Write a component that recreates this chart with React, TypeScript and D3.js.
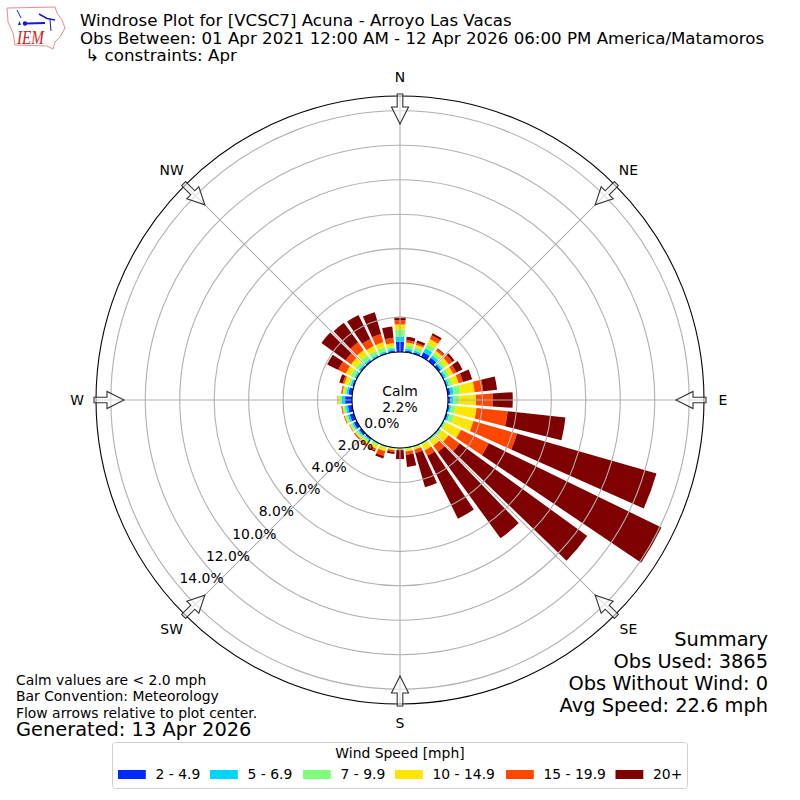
import * as d3 from "d3";

// percent of observations per 10 degree sector, starting at N going clockwise
const directions = d3.range(0, 360, 10);
const bin1 = [0.6, 0.1, 0.1, 0.3, 0.25, 0.15, 0.08, 0.08, 0.15, 0.15, 0.1, 0.1, 0.05, 0.05, 0.03, 0.03, 0.02, 0.02, 0.02, 0.02, 0.03, 0.03, 0.08, 0.15, 0.2, 0.25, 0.25, 0.4, 0.22, 0.1, 0.08, 0.08, 0.08, 0.06, 0.06, 0.1];
const bin2 = [0.3, 0.12, 0.1, 0.25, 0.15, 0.12, 0.12, 0.1, 0.2, 0.18, 0.1, 0.1, 0.05, 0.05, 0.04, 0.03, 0.03, 0.03, 0.01, 0.02, 0.03, 0.05, 0.07, 0.08, 0.1, 0.12, 0.13, 0.2, 0.12, 0.1, 0.08, 0.1, 0.1, 0.1, 0.1, 0.12];
const bin3 = [0.4, 0.2, 0.2, 0.3, 0.2, 0.2, 0.2, 0.22, 0.4, 0.33, 0.26, 0.3, 0.1, 0.1, 0.08, 0.06, 0.05, 0.05, 0.02, 0.03, 0.05, 0.08, 0.13, 0.13, 0.1, 0.1, 0.13, 0.13, 0.13, 0.13, 0.24, 0.2, 0.27, 0.24, 0.24, 0.12];
const bin4 = [0.3, 0.15, 0.15, 0.3, 0.15, 0.25, 0.25, 0.36, 0.82, 0.97, 1.22, 1.15, 0.95, 0.5, 0.35, 0.35, 0.12, 0.12, 0.05, 0.08, 0.2, 0.2, 0.14, 0.08, 0.07, 0.08, 0.07, 0.1, 0.1, 0.25, 0.32, 0.35, 0.35, 0.3, 0.3, 0.2];
const bin5 = [0.25, 0.13, 0.11, 0.25, 0.13, 0.25, 0.2, 0.26, 0.5, 0.97, 1.82, 2.63, 1.8, 0.8, 0.45, 0.35, 0.2, 0.2, 0.03, 0.1, 0.28, 0.12, 0.1, 0.05, 0.02, 0.04, 0.03, 0.01, 0.05, 0.1, 0.48, 0.4, 0.55, 0.45, 0.5, 0.3];
const bin6 = [0.2, 0.2, 0.15, 0.13, 0.05, 0.15, 0.4, 0.55, 0.81, 1.16, 3.37, 8.42, 11.15, 9.15, 6.19, 4.06, 2.06, 0.7, 0.52, 0.12, 0.15, 0.07, 0.03, 0.02, 0.01, 0.01, 0.02, 0.01, 0.02, 0.2, 0.72, 1.72, 1.41, 1.56, 1.32, 0.66];

const binLabels = ["2 - 4.9", "5 - 6.9", "7 - 9.9", "10 - 14.9", "15 - 19.9", "20+"];
const binColors = ["#0029ff", "#00d5ff", "#7dff7a", "#ffe600", "#ff4700", "#7f0000"];
const legendSwatchX = [118, 210, 303, 395, 506, 615.5];

const ringTicks = [0, 2, 4, 6, 8, 10, 12, 14];
const compass = ["N", "NE", "E", "SE", "S", "SW", "W", "NW"];

const titleLines = [
  "Windrose Plot for [VCSC7] Acuna - Arroyo Las Vacas",
  "Obs Between: 01 Apr 2021 12:00 AM - 12 Apr 2026 06:00 PM America/Matamoros",
  " \u21b3 constraints: Apr",
];
const summaryLines = ["Summary", "Obs Used: 3865", "Obs Without Wind: 0", "Avg Speed: 22.6 mph"];
const noteLines = ["Calm values are < 2.0 mph", "Bar Convention: Meteorology", "Flow arrows relative to plot center."];

const cx = 400;
const cy = 400;
const rad = (d: number) => (d * Math.PI) / 180;
const r = d3.scaleLinear().domain([0, 14.86]).range([48, 304]);

const keys = ["b1", "b2", "b3", "b4", "b5", "b6"];
const table = directions.map((dir, i) => ({
  dir,
  b1: bin1[i],
  b2: bin2[i],
  b3: bin3[i],
  b4: bin4[i],
  b5: bin5[i],
  b6: bin6[i],
}));
const stacked = d3.stack().keys(keys)(table as any);
const arc = d3.arc();
const barWidth = 8;

// outline arrow pointing at the center, drawn pointing down from the top edge
const arrowPath = "M-2.8,-306 L2.8,-306 L2.8,-293 L8.5,-293 L0,-276 L-8.5,-293 L-2.8,-293 Z";

const font = "'DejaVu Sans', sans-serif";

export default function App() {
  return (
    <svg
      width={800}
      height={800}
      viewBox="0 0 800 800"
      style={{ position: "absolute", left: 0, top: 0, fontFamily: font }}
    >
      <rect width={800} height={800} fill="white" />

      {/* logo */}
      <g>
        <path
          d="M7,8 L55,7 L57,13 L62,20 L65,28 L60,37 L55,42 L53,49 L47,46 L15,45 L13,33 L8,22 Z"
          fill="white"
          stroke="#e88b8b"
          strokeWidth={1}
        />
        <path d="M26,23.5 L45,23" stroke="#1a1ac8" strokeWidth={1.8} fill="none" />
        <path d="M17,10 L21,18" stroke="#1a1ac8" strokeWidth={1} fill="none" />
        <path d="M39,14 L47,18.5 L55,20" stroke="#1a1ac8" strokeWidth={1.6} fill="none" />
        <path d="M50,20 L51,31" stroke="#1a1ac8" strokeWidth={1} fill="none" />
        <circle cx={25} cy={23.5} r={2.2} fill="#1a1ac8" />
        <path d="M18,25 L21,25 L19.5,21 Z" fill="#1a1ac8" />
        <text
          x={17}
          y={44}
          fontFamily="'Liberation Serif', serif"
          fontStyle="italic"
          fontSize={18}
          fill="#d02020"
          textLength={27}
          lengthAdjust="spacingAndGlyphs"
        >
          IEM
        </text>
      </g>

      {/* title */}
      {titleLines.map((t, i) => (
        <text key={t} x={80} y={26 + i * 17.5} fontSize={16.67} fill="black" xmlSpace="preserve">
          {t}
        </text>
      ))}

      <g transform={`translate(${cx},${cy})`}>
        {/* stacked bars */}
        {stacked.map((series: any, k: number) =>
          series.map((d: any, i: number) => (
            <path
              key={`${k}-${i}`}
              fill={binColors[k]}
              d={
                arc({
                  innerRadius: r(d[0]),
                  outerRadius: r(d[1]),
                  startAngle: rad(directions[i] - barWidth / 2),
                  endAngle: rad(directions[i] + barWidth / 2),
                }) as string
              }
            />
          ))
        )}

        {/* grid goes over the bars */}
        {ringTicks.slice(1).map((t) => (
          <circle key={t} r={r(t)} fill="none" stroke="#b0b0b0" strokeWidth={1.1} />
        ))}
        {compass.map((c, i) => {
          const [x0, y0] = d3.pointRadial(rad(i * 45), r(0));
          const [x1, y1] = d3.pointRadial(rad(i * 45), r.range()[1]);
          return <line key={c} x1={x0} y1={y0} x2={x1} y2={y1} stroke="#b0b0b0" strokeWidth={1.1} />;
        })}

        <circle r={r(0)} fill="white" stroke="black" strokeWidth={1.1} />
        <circle r={r.range()[1]} fill="none" stroke="black" strokeWidth={1.1} />

        {/* arrows and compass labels */}
        {compass.map((c, i) => {
          const [lx, ly] = d3.pointRadial(rad(i * 45), 323);
          return (
            <g key={c}>
              <path
                d={arrowPath}
                transform={`rotate(${i * 45})`}
                fill="white"
                fillOpacity={0.55}
                stroke="#333"
                strokeWidth={1.1}
              />
              <text x={lx} y={ly + 5} dy={i % 2 === 1 ? (ly < 0 ? -2 : 1) : 0} textAnchor="middle" fontSize={13.9} fill="black">
                {c}
              </text>
            </g>
          );
        })}

        {/* radial tick labels, left aligned against the spoke at 230 */}
        {ringTicks.map((t) => {
          const [x, y] = d3.pointRadial(rad(230), r(t));
          return (
            <text key={t} x={x + 1} y={y - 8 + 5} fontSize={13.9} fill="black">
              {t.toFixed(1)}%
            </text>
          );
        })}

        <text y={-4} textAnchor="middle" fontSize={13.9} fill="black">
          Calm
        </text>
        <text y={12} textAnchor="middle" fontSize={13.9} fill="black">
          2.2%
        </text>
      </g>

      {/* summary */}
      {summaryLines.map((t, i) => (
        <text key={t} x={768} y={646 + i * 22} textAnchor="end" fontSize={19.4} fill="black">
          {t}
        </text>
      ))}

      {/* notes */}
      {noteLines.map((t, i) => (
        <text key={t} x={16} y={685 + i * 16.3} fontSize={13.9} fill="black">
          {t}
        </text>
      ))}
      <text x={16} y={736} fontSize={19.4} fill="black">
        Generated: 13 Apr 2026
      </text>

      {/* legend */}
      <rect x={112.5} y={742.5} width={575} height={46} rx={3} fill="white" stroke="#d0d0d0" strokeWidth={1} />
      <text x={400} y={758} textAnchor="middle" fontSize={13.9} fill="black">
        Wind Speed [mph]
      </text>
      {binLabels.map((t, i) => (
        <g key={t}>
          <rect x={legendSwatchX[i]} y={770} width={27.8} height={9} fill={binColors[i]} />
          <text x={legendSwatchX[i] + 37.5} y={779} fontSize={13.9} fill="black">
            {t}
          </text>
        </g>
      ))}
    </svg>
  );
}
